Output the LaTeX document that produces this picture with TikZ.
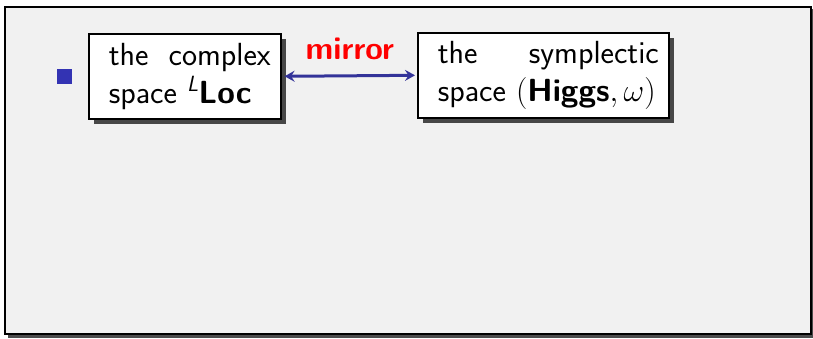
\RequirePackage{fix-cm}
\documentclass[tikz,border=0pt]{standalone}
\usepackage{fontspec}
\usetikzlibrary{arrows.meta,shadows}
\renewcommand{\familydefault}{\sfdefault}
\DeclareMathSizes{32}{32}{22}{16}
\definecolor{framebg}{HTML}{F1F1F1}
\definecolor{bulletblue}{HTML}{3333B3}
\definecolor{arrowblue}{HTML}{333399}
\newcommand{\boxfont}{\fontsize{32}{38.5}\selectfont}
\begin{document}
\begin{tikzpicture}[x=1pt,y=-1pt,
  textbox/.style={draw=black, line width=1.6pt, fill=white, inner xsep=10pt,
    minimum width=192pt, minimum height=85pt, anchor=north west,
    drop shadow={shadow xshift=5.5pt, shadow yshift=-5.5pt, fill=black!72, opacity=1}},
  mirrorarrow/.style={draw=arrowblue, line width=3pt,
    {Stealth[length=10pt,width=11pt,inset=3.5pt]}-{Stealth[length=10pt,width=11pt,inset=3.5pt]}}]
  \useasboundingbox (0,0) rectangle (813,338);
  % slide frame with its shadow
  \fill[black!70] (7.5,9) rectangle (814,337.5);
  \draw[line width=2pt, fill=framebg] (4.5,6.5) rectangle (811,334);
  % bullet
  \node[fill=bulletblue, minimum size=15pt, inner sep=0pt] (bullet) at (64.5,76) {};
  % the two spaces
  \node[textbox] (loc) at (88,33)
    {\hspace*{10pt}\parbox{162pt}{\boxfont
      the complex space \textsuperscript{\textit{L}}\textbf{Loc}}};
  \node[textbox, minimum width=251pt] (higgs) at (417,32)
    {\hspace*{10pt}\parbox{221pt}{\boxfont
      the symplectic space $(\textbf{Higgs},\omega)$}};
  % mirror arrow
  \draw[mirrorarrow] ([xshift=3pt]loc.east) -- ([xshift=-2pt]higgs.west)
    node[midway, anchor=base, yshift=16pt, text=red,
         font=\fontsize{32}{38}\selectfont\bfseries] (mirror) {mirror};
\end{tikzpicture}
\end{document}
